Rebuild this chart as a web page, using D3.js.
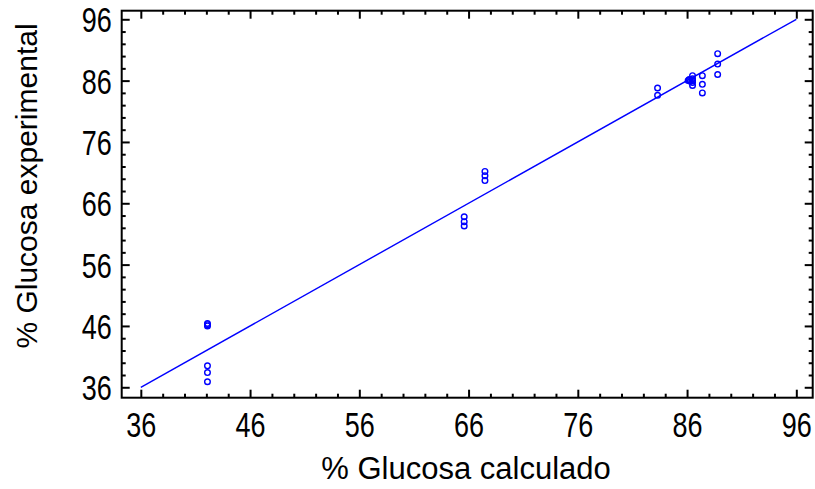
<!DOCTYPE html>
<html>
<head>
<meta charset="utf-8">
<script src="https://cdn.jsdelivr.net/npm/d3@7"></script>
<style>
  body { margin: 0; background: #fff; }
  text { font-family: "Liberation Sans", Arial, sans-serif; fill: #000; }
</style>
</head>
<body>
<div id="chart"></div>
<script>
// % glucosa calculado vs experimental
let calcX = [42.1, 42.1, 42.1, 42.1, 42.1, 42.1,
             65.6, 65.6, 65.6, 67.5, 67.5, 67.5,
             83.3, 83.3,
             86.1, 86.2, 86.3, 86.2, 86.5, 86.5, 86.5, 86.5, 86.5,
             87.4, 87.4, 87.4,
             88.8, 88.8, 88.8];
let expY  = [46.0, 46.2, 46.4, 39.5, 38.4, 36.9,
             63.8, 63.0, 62.3, 71.2, 70.5, 69.7,
             84.8, 83.6,
             86.0, 86.2, 85.9, 86.1, 86.8, 86.3, 85.7, 85.2, 86.0,
             86.8, 85.4, 84.0,
             90.4, 88.7, 87.0];
let majorTicks = [36, 46, 56, 66, 76, 86, 96];
let minorTicks = d3.range(36, 97, 2).filter(d => !majorTicks.includes(d));
let fitLine = [36, 96];

var margin = {top: 10.7, right: 2.3, bottom: 91.3, left: 121.7},
    width = 815 - margin.left - margin.right,
    height = 489 - margin.top - margin.bottom;

let svg = d3.select("#chart")
            .append("svg")
                .attr("width", 815)
                .attr("height", 489)
            .append("g")
                .attr("transform", "translate(" + margin.left + "," + margin.top + ")");

let x = d3.scaleLinear().domain([34.25, 97.5]).range([0, width]);
let y = d3.scaleLinear().domain([34.3, 97.4]).range([height, 0]);

// fit line y = x
svg.append("line")
    .attr("x1", x(fitLine[0])).attr("y1", y(fitLine[0]))
    .attr("x2", x(fitLine[1])).attr("y2", y(fitLine[1]))
    .style("stroke", "#0000ff")
    .style("stroke-width", 1.4);

// points
svg.selectAll("circle")
    .data(calcX)
    .enter()
    .append("circle")
        .attr("cx", d => x(d))
        .attr("cy", (d, i) => y(expY[i]))
        .attr("r", 2.8)
        .style("fill", "none")
        .style("stroke", "#0000ff")
        .style("stroke-width", 1.4);

function styleAxis(g) {
    g.select(".domain").remove();
    g.selectAll("line").style("stroke", "#000").style("stroke-width", 2);
    g.selectAll("text").style("font-size", "27px");
}

// bottom / top
svg.append("g").attr("transform", "translate(0," + height + ")")
    .call(d3.axisBottom(x).tickValues(majorTicks).tickSize(-8).tickFormat(d3.format("d")))
    .call(styleAxis)
    .selectAll("text")
        .attr("y", 0)
        .attr("transform", "translate(0,14) scale(1,1.3)");
svg.append("g").attr("transform", "translate(0," + height + ")")
    .call(d3.axisBottom(x).tickValues(minorTicks).tickSize(-4).tickFormat(""))
    .call(styleAxis);
svg.append("g")
    .call(d3.axisTop(x).tickValues(majorTicks).tickSize(-8).tickFormat(""))
    .call(styleAxis);
svg.append("g")
    .call(d3.axisTop(x).tickValues(minorTicks).tickSize(-4).tickFormat(""))
    .call(styleAxis);

// left / right
svg.append("g")
    .call(d3.axisLeft(y).tickValues(majorTicks).tickSize(-8).tickPadding(10).tickFormat(d3.format("d")))
    .call(styleAxis)
    .selectAll("text")
        .attr("x", 0)
        .attr("dy", "0.36em")
        .attr("transform", "translate(-10,0) scale(1,1.3)");
svg.append("g")
    .call(d3.axisLeft(y).tickValues(minorTicks).tickSize(-4).tickFormat(""))
    .call(styleAxis);
svg.append("g").attr("transform", "translate(" + width + ",0)")
    .call(d3.axisRight(y).tickValues(majorTicks).tickSize(-8).tickFormat(""))
    .call(styleAxis);
svg.append("g").attr("transform", "translate(" + width + ",0)")
    .call(d3.axisRight(y).tickValues(minorTicks).tickSize(-4).tickFormat(""))
    .call(styleAxis);

// frame
svg.append("rect")
    .attr("width", width)
    .attr("height", height)
    .style("fill", "none")
    .style("stroke", "#000")
    .style("stroke-width", 2);

// axis titles
svg.append("text")
    .attr("text-anchor", "middle")
    .attr("x", 466 - margin.left)
    .attr("y", 479 - margin.top)
    .style("font-size", "31px")
    .text("% Glucosa calculado");

svg.append("text")
    .attr("text-anchor", "middle")
    .attr("transform", "translate(" + (37 - margin.left) + "," + (186 - margin.top) + ") rotate(-90)")
    .style("font-size", "30px")
    .text("% Glucosa experimental");
</script>
</body>
</html>
